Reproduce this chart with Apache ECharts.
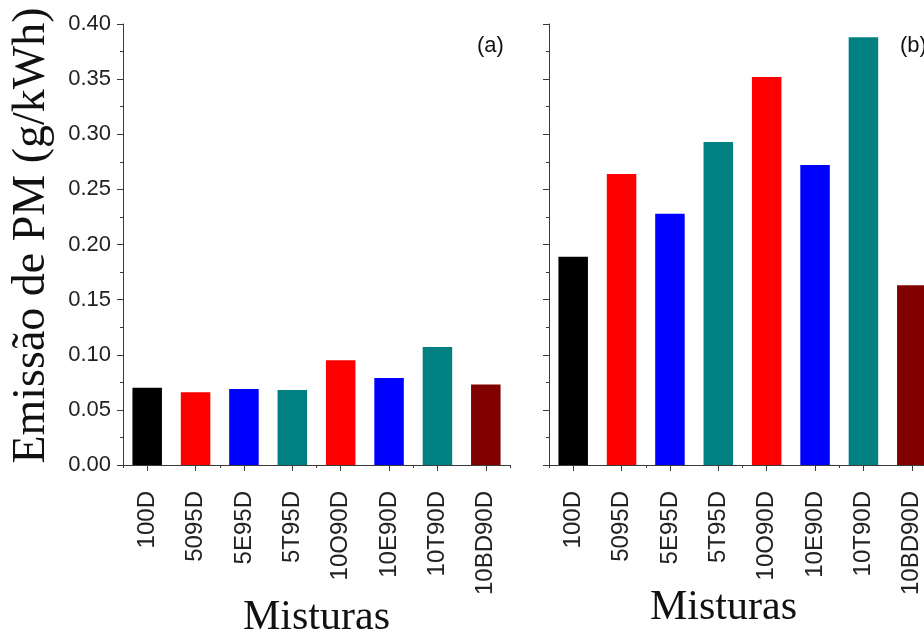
<!DOCTYPE html>
<html>
<head>
<meta charset="utf-8">
<script src="https://cdn.jsdelivr.net/npm/echarts@6/dist/echarts.min.js"></script>
<style>
html,body{margin:0;padding:0;background:#fff;}
#chart{width:924px;height:635px;}
</style>
</head>
<body>
<div id="chart"></div>
<script>
const categories = ['100D', '5095D', '5E95D', '5T95D', '10O90D', '10E90D', '10T90D', '10BD90D'];
const valuesA = [0.070, 0.066, 0.069, 0.068, 0.095, 0.079, 0.107, 0.073];
const valuesB = [0.189, 0.264, 0.228, 0.293, 0.352, 0.272, 0.388, 0.163];
const barColors = ['#000000', '#ff0000', '#0000ff', '#008080', '#ff0000', '#0000ff', '#008080', '#800000'];
const yMin = 0, yMax = 0.40, yStep = 0.05;
const yTitle = 'Emissão de PM (g/kWh)';
const xTitle = 'Misturas';
const panelLabels = ['(a)', '(b)'];

const axisColor = '#3a3a3a';
const chart = echarts.init(document.getElementById('chart'), null, {renderer: 'canvas'});

function yAxisFor(grid, showLabels) {
  return {
    type: 'value', gridIndex: grid, min: yMin, max: yMax, interval: yStep,
    axisLine: {show: true, lineStyle: {color: axisColor, width: 1}},
    axisTick: {show: true, inside: false, length: 6, lineStyle: {color: axisColor}},
    minorTick: {show: true, splitNumber: 2, length: 3, lineStyle: {color: axisColor}},
    splitLine: {show: false},
    axisLabel: {show: showLabels, margin: 12, formatter: v => v.toFixed(2),
      fontFamily: 'Liberation Sans', fontSize: 22, color: '#222'},
    name: showLabels ? yTitle : '',
    nameLocation: 'middle', nameGap: 68, nameMoveOverlap: false,
    nameTextStyle: {fontFamily: 'Liberation Serif', fontSize: 46, color: '#111', padding: [0, 0, 0, 18]}
  };
}
function xAxisMain(grid, gap, pad) {
  return {
    type: 'category', gridIndex: grid, data: categories,
    axisLine: {show: true, lineStyle: {color: axisColor, width: 1}},
    axisTick: {show: true, alignWithLabel: true, length: 6, lineStyle: {color: axisColor}},
    axisLabel: {rotate: 90, margin: 26, interval: 0,
      fontFamily: 'Liberation Sans', fontSize: 24, color: '#222'},
    name: xTitle, nameLocation: 'middle', nameGap: gap, nameMoveOverlap: false,
    nameTextStyle: {fontFamily: 'Liberation Serif', fontSize: 42, color: '#111', padding: pad}
  };
}
function xAxisMinor(grid) {
  return {
    type: 'category', gridIndex: grid, data: categories, position: 'bottom',
    axisLine: {show: false},
    axisTick: {show: true, alignWithLabel: false, length: 3, lineStyle: {color: axisColor}},
    axisLabel: {show: false}
  };
}
function barSeries(idx, values) {
  return {
    type: 'bar', xAxisIndex: idx * 2, yAxisIndex: idx,
    barCategoryGap: '39%',
    data: values.map((v, i) => ({value: v, itemStyle: {color: barColors[i]}})),
    silent: true, animation: false
  };
}

chart.setOption({
  backgroundColor: '#ffffff',
  animation: false,
  title: [
    {text: panelLabels[0], left: 472, top: 30, textStyle: {fontFamily: 'Liberation Sans', fontSize: 22, fontWeight: 'normal', color: '#111'}},
    {text: panelLabels[1], left: 895, top: 30, textStyle: {fontFamily: 'Liberation Sans', fontSize: 22, fontWeight: 'normal', color: '#111'}}
  ],
  grid: [
    {left: 123, top: 24, width: 387, height: 441, outerBoundsMode: 'none', containLabel: false},
    {left: 549, top: 24, width: 387, height: 441, outerBoundsMode: 'none', containLabel: false}
  ],
  xAxis: [xAxisMain(0, 132, [0,0,0,0]), xAxisMinor(0), xAxisMain(1, 122, [0,38,0,0]), xAxisMinor(1)],
  yAxis: [yAxisFor(0, true), yAxisFor(1, false)],
  series: [barSeries(0, valuesA), barSeries(1, valuesB)]
});
</script>
</body>
</html>
